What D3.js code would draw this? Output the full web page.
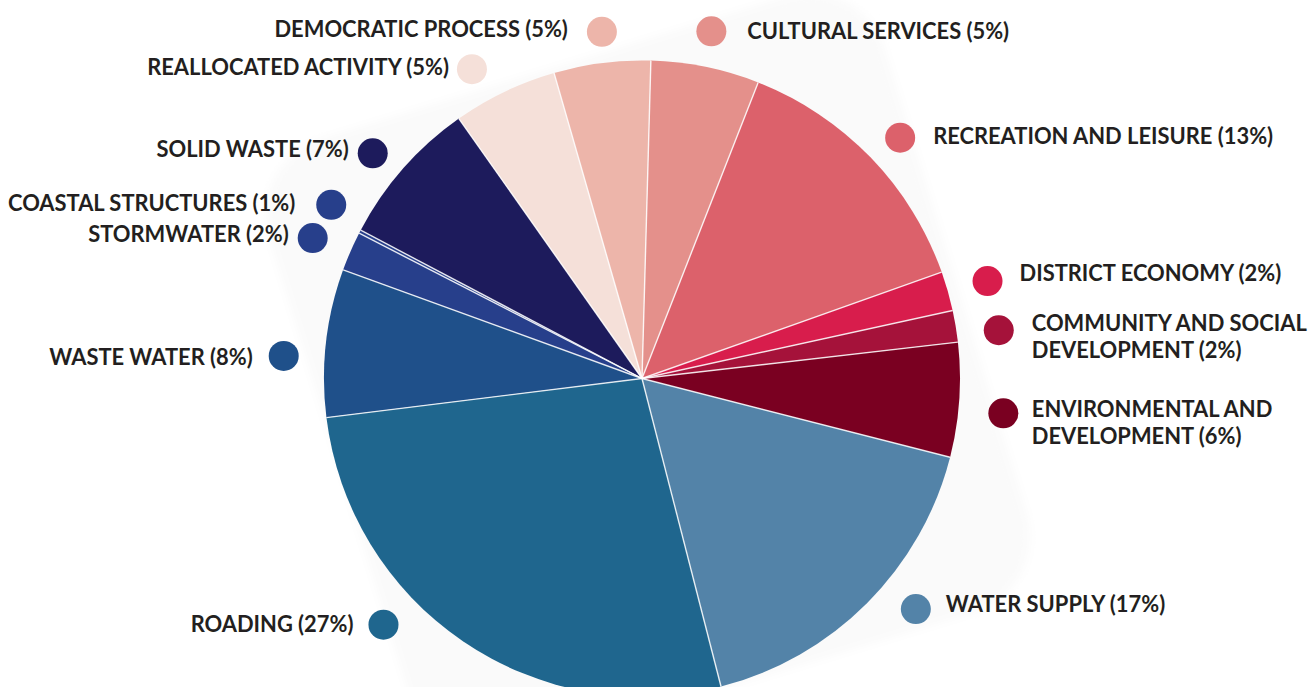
<!DOCTYPE html>
<html>
<head>
<meta charset="utf-8">
<script src="https://cdn.jsdelivr.net/npm/d3@7"></script>
<style>
  html, body { margin: 0; padding: 0; background: #fff; }
  svg { display: block; }
  .label { font-family: Lato, "Open Sans", sans-serif; font-weight: 700; font-size: 21.9px; fill: #231f20; }
</style>
</head>
<body>
<div id="chart"></div>
<script>
// slices, clockwise from the top
const categories = [
  "CULTURAL SERVICES", "RECREATION AND LEISURE", "DISTRICT ECONOMY",
  "COMMUNITY AND SOCIAL DEVELOPMENT", "ENVIRONMENTAL AND DEVELOPMENT",
  "WATER SUPPLY", "ROADING", "WASTE WATER", "STORMWATER",
  "COASTAL STRUCTURES", "SOLID WASTE", "REALLOCATED ACTIVITY", "DEMOCRATIC PROCESS"
];
const values = [5.5, 13.6, 2.0, 1.6, 5.8, 17.0, 27.0, 7.5, 2.0, 0.17, 7.5, 5.3, 4.9];
const shownPercents = [5, 13, 2, 2, 6, 17, 27, 8, 2, 1, 7, 5, 5];
const colors = [
  "#e4908b", "#dc616b", "#d81d4c", "#a5123a", "#7a0021",
  "#5383a8", "#1f668e", "#1f508a", "#273f8b", "#273f8b",
  "#1d1b5c", "#f5e0d9", "#edb5aa"
];
// where the long names wrap
const wrapAfter = { "COMMUNITY AND SOCIAL DEVELOPMENT": 3, "ENVIRONMENTAL AND DEVELOPMENT": 2 };

// label placement: [dot angle (deg), dot distance, text gap, vertical shift]
const labelLayout = [
  [11.3, 354, 36, 0],
  [47.0, 353, 33, -2],
  [74.25, 359, 32, -8],
  [82.3, 360, 33, 6.6],
  [95.5, 363, 28.5, 9.3],
  [130.1, 358, 30, -4.5],
  [226.4, 357, 30, 0],
  [273.6, 359, 31, 1.3],
  [293.1, 358, 24, -3.6],
  [299.2, 356, 36, -2],
  [309.9, 351, 24, -4.3],
  [331.2, 353, 23, -1.8],
  [353.4, 349, 34, -2.7]
];

const width = 1310;
const height = 687;
const cx = 642;
const cy = 378.5;
const radius = 318;
const rad = (deg) => (deg * Math.PI) / 180;

const svg = d3
  .select("#chart")
  .append("svg")
  .attr("width", width)
  .attr("height", height);

// faint tilted card behind the pie
const defs = svg.append("defs");
defs
  .append("filter")
  .attr("id", "soft")
  .attr("x", "-10%")
  .attr("y", "-10%")
  .attr("width", "120%")
  .attr("height", "120%")
  .append("feGaussianBlur")
  .attr("stdDeviation", 5);

const card = radius + 4;
svg
  .append("rect")
  .attr("x", -card)
  .attr("y", -card)
  .attr("width", card * 2)
  .attr("height", card * 2)
  .attr("rx", 80)
  .attr("fill", "#fafafa")
  .attr("filter", "url(#soft)")
  .attr("transform", `translate(${cx + 6},${cy - 3}) rotate(-17)`);

const pie = d3
  .pie()
  .sort(null)
  .value((d) => d)
  .startAngle(rad(1.6))
  .endAngle(rad(1.6) + 2 * Math.PI);

const arcs = pie(values);
const arc = d3.arc().innerRadius(0).outerRadius(radius);

const g = svg.append("g").attr("transform", `translate(${cx},${cy})`);

g.selectAll("path.slice")
  .data(arcs)
  .enter()
  .append("path")
  .attr("class", "slice")
  .attr("d", arc)
  .attr("fill", (d, i) => colors[i]);

// thin white separators between slices
g.selectAll("line.sep")
  .data(arcs)
  .enter()
  .append("line")
  .attr("class", "sep")
  .attr("x1", 0)
  .attr("y1", 0)
  .attr("x2", (d) => radius * Math.sin(d.startAngle))
  .attr("y2", (d) => -radius * Math.cos(d.startAngle))
  .attr("stroke", "#fff")
  .attr("stroke-opacity", 0.85)
  .attr("stroke-width", 1.4);

// labels with coloured dots
const capHeight = 15.5;
const lineGap = 26.7;

svg
  .selectAll("g.label-group")
  .data(categories)
  .enter()
  .append("g")
  .attr("class", "label-group")
  .each(function (name, i) {
    const [ang, dist, gap, dy] = labelLayout[i];
    const x = cx + dist * Math.sin(rad(ang));
    const y = cy - dist * Math.cos(rad(ang));
    const right = ang < 180;
    const grp = d3.select(this);

    grp
      .append("circle")
      .attr("cx", x)
      .attr("cy", y)
      .attr("r", 15)
      .attr("fill", colors[i]);

    const words = name.split(" ");
    const pct = `(${shownPercents[i]}%)`;
    let lines;
    if (wrapAfter[name]) {
      lines = [
        words.slice(0, wrapAfter[name]).join(" "),
        words.slice(wrapAfter[name]).join(" ") + " " + pct
      ];
    } else {
      lines = [name + " " + pct];
    }

    const top = y + dy - ((lines.length - 1) * lineGap) / 2 + capHeight / 2;
    const text = grp
      .append("text")
      .attr("class", "label")
      .attr("text-anchor", right ? "start" : "end");

    lines.forEach((line, k) => {
      text
        .append("tspan")
        .attr("x", right ? x + gap : x - gap)
        .attr("y", top + k * lineGap)
        .text(line);
    });
  });
</script>
</body>
</html>
